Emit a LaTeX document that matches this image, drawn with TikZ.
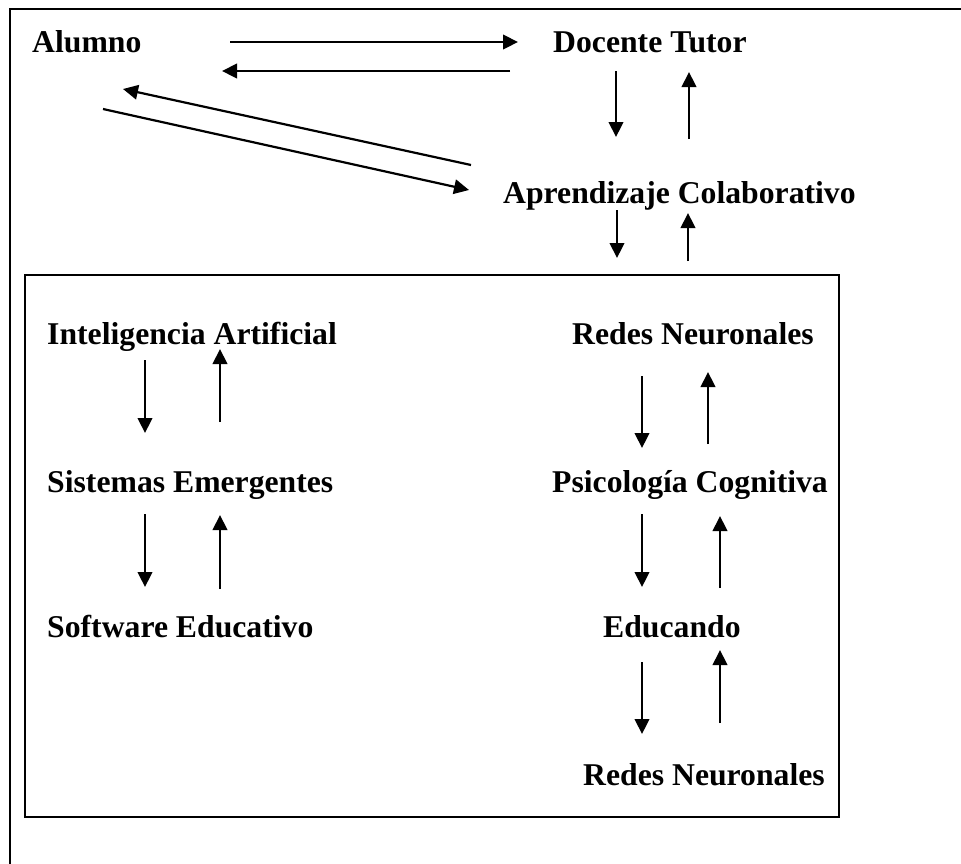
\documentclass[tikz,border=0pt]{standalone}
\usepackage{fontspec}
\setmainfont{Liberation Serif}
\usetikzlibrary{arrows.meta}
\tikzset{
  lbl/.style={anchor=base west, inner sep=0pt, font=\fontsize{31.7}{38}\selectfont\bfseries},
  arr/.style={line width=2.2pt, -{Triangle[length=15pt,width=14.5pt]}},
  frame/.style={line width=2.2pt}
}
\begin{document}
\begin{tikzpicture}[x=1pt,y=-1pt]
\useasboundingbox (0,0) rectangle (961,863);
\begin{scope}
\clip (0,0) rectangle (961,863);
\draw[frame] (10,900) -- (10,9) -- (1000,9);
\end{scope}
\draw[frame] (25,275) rectangle (839,817);
% labels
\node[lbl] (alumno) at (32,52) {Alumno};
\node[lbl] (docente) at (553,52) {Docente Tutor};
\node[lbl] (aprend) at (503,203) {Aprendizaje Colaborativo};
\node[lbl] (ia) at (47,344) {Inteligencia Artificial};
\node[lbl] (se) at (47,492) {Sistemas Emergentes};
\node[lbl] (sw) at (47,637) {Software Educativo};
\node[lbl] (rna) at (572,344) {Redes Neuronales};
\node[lbl] (pc) at (552,492) {Psicología Cognitiva};
\node[lbl] (edu) at (603,637) {Educando};
\node[lbl] (rnb) at (583,785) {Redes Neuronales};
% arrow end points
\coordinate (a1s) at (230,42);  \coordinate (a1e) at (518,42);
\coordinate (a2s) at (510,71);  \coordinate (a2e) at (222,71);
\coordinate (a3s) at (471,165); \coordinate (a3e) at (123,89);
\coordinate (a4s) at (103,109); \coordinate (a4e) at (469,190);
\coordinate (d1s) at (616,71);  \coordinate (d1e) at (616,137);
\coordinate (d2s) at (689,139); \coordinate (d2e) at (689,72);
\coordinate (c1s) at (617,210); \coordinate (c1e) at (617,258);
\coordinate (c2s) at (688,261); \coordinate (c2e) at (688,213);
\coordinate (l1s) at (145,360); \coordinate (l1e) at (145,433);
\coordinate (l2s) at (220,422); \coordinate (l2e) at (220,349);
\coordinate (l3s) at (145,514); \coordinate (l3e) at (145,587);
\coordinate (l4s) at (220,589); \coordinate (l4e) at (220,515);
\coordinate (r1s) at (642,376); \coordinate (r1e) at (642,448);
\coordinate (r2s) at (708,444); \coordinate (r2e) at (708,372);
\coordinate (r3s) at (642,514); \coordinate (r3e) at (642,587);
\coordinate (r4s) at (720,588); \coordinate (r4e) at (720,516);
\coordinate (r5s) at (642,662); \coordinate (r5e) at (642,734);
\coordinate (r6s) at (720,723); \coordinate (r6e) at (720,650);
\foreach \a in {a1,a2,a3,a4,d1,d2,c1,c2,l1,l2,l3,l4,r1,r2,r3,r4,r5,r6}
  \draw[arr] (\a s) -- (\a e);
\end{tikzpicture}
\end{document}
